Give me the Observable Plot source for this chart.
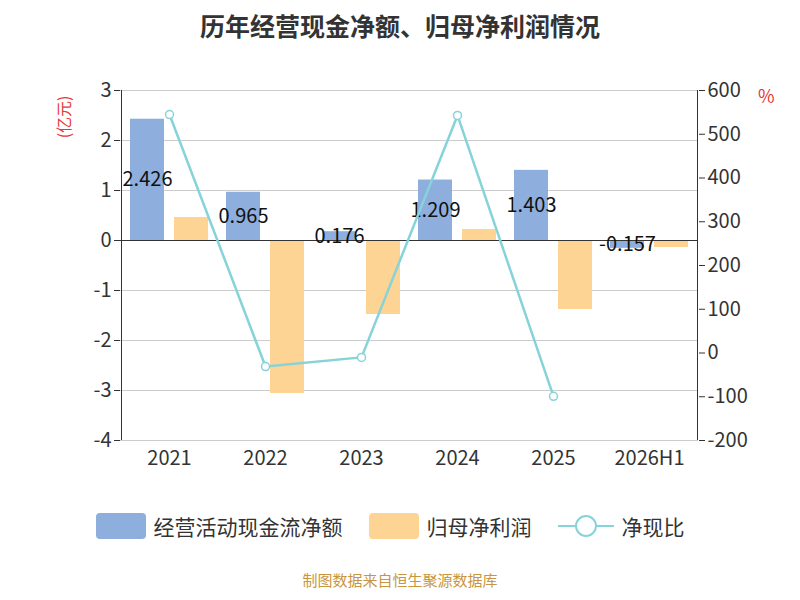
<!DOCTYPE html><html><head><meta charset="utf-8">
<script src="https://cdn.jsdelivr.net/npm/d3@7"></script>
<script src="https://cdn.jsdelivr.net/npm/@observablehq/plot@0.6"></script>
<style>body{margin:0;width:800px;height:600px;font-family:"Noto Sans CJK SC","Noto Sans",sans-serif;background:#fff}
#t{height:45px;text-align:center;font-size:25px;font-weight:bold;color:#333;line-height:50px}
#lg{display:flex;justify-content:center;gap:26px;font-size:21px;color:#333;margin-top:6px;align-items:center;padding-right:20px}
.it{display:flex;align-items:center;gap:8px}
#c{text-align:center;color:#c8963e;font-size:15px;margin-top:28px}</style></head><body>
<div id="t">历年经营现金净额、归母净利润情况</div><div id="p"></div>
<div id="lg"><div class="it"><span style="display:inline-block;width:50px;height:26px;background:#8eaedd;border-radius:4px"></span>经营活动现金流净额</div>
<div class="it"><span style="display:inline-block;width:50px;height:26px;background:#fdd494;border-radius:4px"></span>归母净利润</div>
<div class="it"><svg width="56" height="26"><line x1="0" y1="13" x2="56" y2="13" stroke="#86d3d9" stroke-width="2"/><circle cx="28" cy="13" r="10" fill="#fff" stroke="#86d3d9" stroke-width="2"/></svg>净现比</div></div>
<div id="c">制图数据来自恒生聚源数据库</div>
<script>
const years=["2021","2022","2023","2024","2025","2026H1"];
const cash=[2.426,0.965,0.176,1.209,1.403,-0.157];
const profit=[0.46,-3.06,-1.48,0.22,-1.38,-0.14];
const ratioYears=["2021","2022","2023","2024","2025"];
const ratio=[545,-31,-10,543,-99];
const leftTicks=[3,2,1,0,-1,-2,-3,-4];
const rightTicks=[600,500,400,300,200,100,0,-100,-200];
const toL=r=>-4+(r+200)/800*7;
const cd=years.map((y,i)=>({y,v:cash[i]}));
const pd=years.map((y,i)=>({y,v:profit[i]}));
const rd=ratioYears.map((y,i)=>({y,v:toL(ratio[i])}));
const plot=Plot.plot({width:800,height:460,marginLeft:120,marginRight:102,marginTop:45,marginBottom:65,
style:{fontSize:"20px",fontFamily:"Noto Sans CJK SC, Noto Sans, sans-serif",color:"#333"},
x:{domain:years,padding:0,label:null},
y:{domain:[-4,3],label:null},
marks:[
Plot.gridY(leftTicks,{stroke:"#ccc",strokeOpacity:1}),
Plot.barY(cd,{x:"y",y:"v",fill:"#8eaedd",insetLeft:9,insetRight:53}),
Plot.barY(pd,{x:"y",y:"v",fill:"#fdd494",insetLeft:53,insetRight:9}),
Plot.ruleY([0],{stroke:"#333"}),
Plot.ruleX([years[0]],{stroke:"#333",dx:-48}),
Plot.ruleX([years[5]],{stroke:"#333",dx:48}),
Plot.text(cd,{x:"y",y:d=>d.v/2,text:d=>String(d.v),dx:-22,fontSize:20,fill:"#111"}),
Plot.line(rd,{x:"y",y:"v",stroke:"#86d3d9",strokeWidth:2.5}),
Plot.dot(rd,{x:"y",y:"v",r:4,stroke:"#86d3d9",fill:"#fff",strokeWidth:1.5}),
Plot.axisX({tickSize:0,tickPadding:10,fontSize:20}),
Plot.axisY(leftTicks,{anchor:"left",tickSize:6,fontSize:20,tickFormat:v=>String(v)}),
Plot.axisY(rightTicks.map(toL),{anchor:"right",tickSize:6,fontSize:20,tickFormat:v=>String(Math.round((v+4)/7*800-200))}),
Plot.text(["(亿元)"],{frameAnchor:"top-left",dx:-62,dy:5,rotate:-90,fill:"#e53935",fontSize:16,textAnchor:"end"}),
Plot.text(["%"],{frameAnchor:"top-right",dx:76,dy:0,fill:"#e53935",fontSize:18})
]});
document.getElementById("p").append(plot);
</script></body></html>
